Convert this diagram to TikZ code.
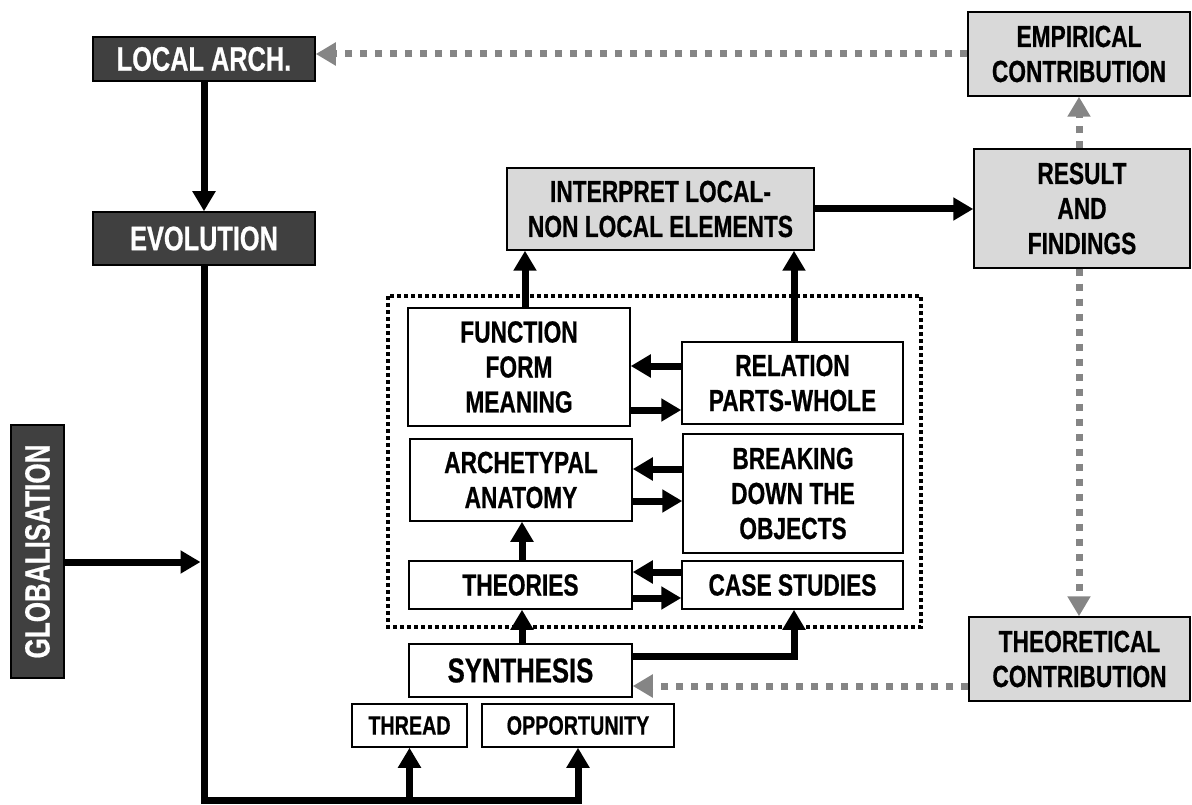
\documentclass[tikz,border=0pt]{standalone}
\usepackage{fontspec}
\setmainfont{Liberation Sans}[FakeStretch=0.745, BoldFeatures={FakeBold=0.6}]
\usetikzlibrary{arrows.meta}
\definecolor{boxdark}{HTML}{404040}
\definecolor{boxlight}{HTML}{D9D9D9}
\definecolor{linkgray}{HTML}{858585}

\begin{document}
\begin{tikzpicture}[x=1pt,y=-1pt,
  box/.style={draw=black, line width=1.5pt, inner sep=0pt, align=center,
    font=\bfseries\fontsize{30.5}{35}\selectfont},
  darkbox/.style={box, fill=boxdark, text=white,
    font=\bfseries\fontsize{34}{38}\selectfont},
  greybox/.style={box, fill=boxlight},
  whitebox/.style={box, fill=white},
  smallbox/.style={whitebox, font=\bfseries\fontsize{26.5}{30}\selectfont},
  flowline/.style={line width=7pt, line join=miter},
  flow/.style={flowline, -{Triangle[length=20pt,width=22pt]}},
  feedback/.style={line width=7pt, draw=linkgray, dash pattern=on 7pt off 8pt,
    -{Triangle[length=20pt,width=22pt]}},
  framing/.style={line width=4pt, dash pattern=on 4pt off 3pt}
]
\useasboundingbox (0,0) rectangle (1192,805);

% analysis frame
\draw[framing] (388,296) rectangle (921,627);

% left column
\node[darkbox, minimum width=222pt, minimum height=44pt] (locl) at (204,59) {LOCAL ARCH.};
\node[darkbox, minimum width=222pt, minimum height=53pt] (evol) at (204,238.5) {EVOLUTION};
\node[darkbox, rotate=90, minimum width=253pt, minimum height=53pt, font=\bfseries\fontsize{35}{38}\selectfont] (glob) at (37.5,551.5) {GLOBALISATION};

% right column
\node[greybox, minimum width=222pt, minimum height=84pt] (emp) at (1079,54) {EMPIRICAL\\CONTRIBUTION};
\node[greybox, minimum width=216pt, minimum height=119pt] (res) at (1082,208.5) {RESULT\\AND\\FINDINGS};
\node[greybox, minimum width=221pt, minimum height=84pt] (theo) at (1079.5,659) {THEORETICAL\\CONTRIBUTION};

% centre
\node[greybox, minimum width=307pt, minimum height=82pt] (interp) at (660.5,209) {INTERPRET LOCAL-\\NON LOCAL ELEMENTS};
\node[whitebox, minimum width=222pt, minimum height=118pt] (func) at (519,367) {FUNCTION\\FORM\\MEANING};
\node[whitebox, minimum width=221pt, minimum height=82pt] (rel) at (792.5,383) {RELATION\\PARTS-WHOLE};
\node[whitebox, minimum width=222pt, minimum height=82pt] (arch) at (521,480) {ARCHETYPAL\\ANATOMY};
\node[whitebox, minimum width=220pt, minimum height=119pt] (brk) at (793,493.5) {BREAKING\\DOWN THE\\OBJECTS};
\node[whitebox, minimum width=223pt, minimum height=48pt] (thr) at (520.5,585) {THEORIES};
\node[whitebox, minimum width=221pt, minimum height=48pt] (case) at (792.5,585) {CASE STUDIES};
\node[whitebox, minimum width=223pt, minimum height=53pt, font=\bfseries\fontsize{34.5}{38}\selectfont] (syn) at (520.5,670.5) {SYNTHESIS};
\node[smallbox, minimum width=115pt, minimum height=43pt] (thread) at (409.5,725.5) {THREAD};
\node[smallbox, minimum width=192pt, minimum height=43pt] (opp) at (578,725.5) {OPPORTUNITY};

\coordinate (base) at (204,800);

% main flow
\draw[flow] (locl) -- (evol);
\draw[flowline] (evol.south) -- (evol.south |- base) -- ([xshift=3.5pt]opp.south |- base);
\draw[flow] (thread.south |- base) -- (thread.south);
\draw[flow] (opp.south |- base) -- (opp.south);
\draw[flow] ([yshift=-10.5pt]glob.south) -- ([yshift=-10.5pt,xshift=-3.5pt]glob.south -| evol.south);

% analysis links
\draw[flow] ([xshift=1.5pt]syn.north) -- ([xshift=1.5pt]syn.north |- thr.south);
\draw[flow] ([xshift=1.5pt]thr.north) -- ([xshift=1.5pt]thr.north |- arch.south);
\draw[flow] ([yshift=14.5pt]syn.east) -| ([xshift=1.5pt]case.south);
\draw[flow] ([yshift=13pt]case.west) -- ([yshift=13pt]case.west -| thr.east);
\draw[flow] ([yshift=-13pt]thr.east) -- ([yshift=-13pt]thr.east -| case.west);
\draw[flow] ([yshift=11pt]arch.east -| brk.west) -- ([yshift=11pt]arch.east);
\draw[flow] ([yshift=-21pt]arch.east) -- ([yshift=-21pt]arch.east -| brk.west);
\draw[flow] ([yshift=17pt]rel.west) -- ([yshift=17pt]rel.west -| func.east);
\draw[flow] ([yshift=-27pt]rel.west -| func.east) -- ([yshift=-27pt]rel.west);
\draw[flow] ([xshift=6pt]func.north) -- ([xshift=6pt]func.north |- interp.south);
\draw[flow] ([xshift=1.5pt]rel.north) -- ([xshift=1.5pt]rel.north |- interp.south);
\draw[flow] (interp.east) -- (interp.east -| res.west);

% feedback links
\draw[feedback] ([xshift=-3pt]res.north) -- ([xshift=-3pt]res.north |- emp.south);
\draw[feedback] ([xshift=-3pt]res.south) -- ([xshift=-3pt]res.south |- theo.north);
\draw[feedback] (emp.west) -- (emp.west -| locl.east);
\draw[feedback] ([yshift=-27pt]theo.west) -- ([yshift=-27pt]theo.west -| syn.east);
\end{tikzpicture}
\end{document}
